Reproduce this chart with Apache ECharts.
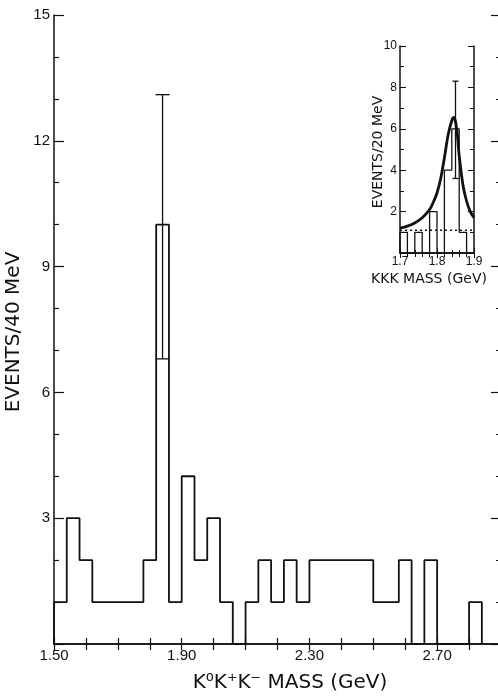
<!DOCTYPE html>
<html><head><meta charset="utf-8">
<script src="https://cdn.jsdelivr.net/npm/echarts@6/dist/echarts.min.js"></script>
<style>html,body{margin:0;padding:0;background:#fff}#c{width:498px;height:696px}</style>
</head><body><div id="c"></div>
<script>
// ---- main histogram (K0 K+ K- mass, 40 MeV bins) ----
const mainBinEdges = [1.50,1.54,1.58,1.62,1.66,1.70,1.74,1.78,1.82,1.86,1.90,1.94,1.98,2.02,2.06,2.10,2.14,2.18,2.22,2.26,2.30,2.34,2.38,2.42,2.46,2.50,2.54,2.58,2.62,2.66,2.70,2.74,2.78,2.80,2.84];
const mainCounts   = [1,3,2,1,1,1,1,2,10,1,4,2,3,1,0,1,2,1,2,1,2,2,2,2,2,1,1,2,0,2,0,0,0,1];
const mainErrorBar = [1.84, 6.8, 13.1];   // x, low, high
const mainXTickLabels = ['1.50','1.90','2.30','2.70'];
const mainYTickLabels = ['3','6','9','12','15'];

// ---- inset histogram (KKK mass, 20 MeV bins) ----
const insetBinEdges = [1.70,1.72,1.74,1.76,1.78,1.80,1.82,1.84,1.86,1.88,1.90];
const insetCounts   = [1,0,1,0,2,0,4,6,1,0];
const insetErrorBar = [1.85, 3.6, 8.3];
const insetFitX = [1.70,1.72,1.74,1.76,1.78,1.79,1.80,1.81,1.82,1.83,1.84,1.845,1.85,1.855,1.86,1.87,1.88,1.89,1.90];
const insetFitY = [1.2,1.3,1.45,1.7,2.1,2.45,2.9,3.6,4.6,5.7,6.4,6.55,6.35,5.7,4.7,3.3,2.5,2.0,1.7];
const insetBackground = [[1.70,1.1],[1.90,1.1]];
const insetXTickLabels = ['1.7','1.8','1.9'];
const insetYTickLabels = ['2','4','6','8','10'];

function stepOutline(edges, counts){
  const d = [[edges[0],0]];
  for (let i=0;i<counts.length;i++){ d.push([edges[i],counts[i]]); d.push([edges[i+1],counts[i]]); }
  d.push([edges[edges.length-1],0]);
  return d;
}
const INK = '#111';
const LBL = 'Liberation Sans, Arial, sans-serif';
const TTL = 'DejaVu Sans, sans-serif';

function errRender(capHalf){
  return function(params, api){
    const x = api.value(0), lo = api.value(1), hi = api.value(2);
    const a = api.coord([x, lo]), b = api.coord([x, hi]);
    const st = {stroke: INK, lineWidth: 1.3};
    return {type:'group', children:[
      {type:'line', shape:{x1:a[0],y1:a[1],x2:b[0],y2:b[1]}, style:st},
      {type:'line', shape:{x1:a[0]-capHalf,y1:a[1],x2:a[0]+capHalf,y2:a[1]}, style:st},
      {type:'line', shape:{x1:b[0]-capHalf,y1:b[1],x2:b[0]+capHalf,y2:b[1]}, style:st}
    ]};
  };
}

const axLine = {show:true, lineStyle:{color:INK, width:1.5}};
const chart = echarts.init(document.getElementById('c'), null, {renderer:'canvas'});
chart.setOption({
  animation:false,
  backgroundColor:'#fff',
  grid:[
    {left:54, top:15, width:447, bottom:52, outerBoundsMode:'none', containLabel:false},
    {left:400, top:46, width:74, height:207, show:true, backgroundColor:'#fff', borderWidth:0, outerBoundsMode:'none', containLabel:false}
  ],
  xAxis:[
    {type:'value', gridIndex:0, position:'bottom', min:1.5, max:2.9, interval:0.1,
     axisLine:axLine, axisTick:{inside:true, length:6, lineStyle:{color:INK, width:1.2}},
     splitLine:{show:false},
     axisLabel:{color:INK, fontFamily:LBL, fontSize:15, margin:4,
       formatter:v=>{const s=v.toFixed(2); return mainXTickLabels.includes(s)?s:'';}}},
    {type:'value', gridIndex:0, position:'top', min:1.5, max:2.9, interval:0.1,
     axisLine:axLine, axisTick:{inside:true, length:6, lineStyle:{color:INK, width:1.2}},
     splitLine:{show:false}, axisLabel:{show:false}},
    {type:'value', gridIndex:1, position:'bottom', min:1.7, max:1.9, interval:0.1,
     axisLine:axLine, axisTick:{inside:true, length:5, lineStyle:{color:INK, width:1}},
     minorTick:{show:true, splitNumber:5, length:3, lineStyle:{color:INK}},
     splitLine:{show:false}, minorSplitLine:{show:false},
     axisLabel:{color:INK, fontFamily:LBL, fontSize:12, margin:3,
       formatter:v=>{const s=v.toFixed(1); return insetXTickLabels.includes(s)?s:'';}}},
    {type:'value', gridIndex:1, position:'top', min:1.7, max:1.9, interval:0.1,
     axisLine:axLine, axisTick:{inside:true, length:5, lineStyle:{color:INK, width:1}},
     minorTick:{show:true, splitNumber:5, length:4, lineStyle:{color:INK}},
     splitLine:{show:false}, minorSplitLine:{show:false}, axisLabel:{show:false}}
  ],
  yAxis:[
    {type:'value', gridIndex:0, position:'left', min:0, max:15, interval:3,
     axisLine:axLine, axisTick:{inside:true, length:10, lineStyle:{color:INK, width:1.2}},
     minorTick:{show:true, splitNumber:3, length:5, lineStyle:{color:INK, width:1.2}},
     splitLine:{show:false}, minorSplitLine:{show:false},
     axisLabel:{color:INK, fontFamily:LBL, fontSize:15, margin:4,
       formatter:v=>{const s=String(v); return mainYTickLabels.includes(s)?s:'';}}},
    {type:'value', gridIndex:0, position:'right', min:0, max:15, interval:3,
     axisLine:axLine, axisTick:{inside:true, length:10, lineStyle:{color:INK, width:1.2}},
     minorTick:{show:true, splitNumber:3, length:5, lineStyle:{color:INK, width:1.2}},
     splitLine:{show:false}, minorSplitLine:{show:false}, axisLabel:{show:false}},
    {type:'value', gridIndex:1, position:'left', min:0, max:10, interval:2,
     axisLine:axLine, axisTick:{inside:true, length:6, lineStyle:{color:INK, width:1}},
     minorTick:{show:true, splitNumber:2, length:4, lineStyle:{color:INK}},
     splitLine:{show:false}, minorSplitLine:{show:false},
     axisLabel:{color:INK, fontFamily:LBL, fontSize:12, margin:3,
       formatter:v=>{const s=String(v); return insetYTickLabels.includes(s)?s:'';}}},
    {type:'value', gridIndex:1, position:'right', min:0, max:10, interval:2,
     axisLine:axLine, axisTick:{inside:true, length:6, lineStyle:{color:INK, width:1}},
     minorTick:{show:true, splitNumber:2, length:4, lineStyle:{color:INK}},
     splitLine:{show:false}, minorSplitLine:{show:false}, axisLabel:{show:false}}
  ],
  series:[
    {type:'line', xAxisIndex:0, yAxisIndex:0, data:stepOutline(mainBinEdges, mainCounts),
     symbol:'none', lineStyle:{color:INK, width:1.8}, z:3},
    {type:'custom', xAxisIndex:0, yAxisIndex:0, data:[mainErrorBar],
     encode:{x:0, y:[1,2]}, renderItem:errRender(7), z:4},
    {type:'line', xAxisIndex:2, yAxisIndex:2, data:stepOutline(insetBinEdges, insetCounts),
     symbol:'none', lineStyle:{color:INK, width:1.3}, z:3},
    {type:'line', xAxisIndex:2, yAxisIndex:2, data:insetBackground,
     symbol:'none', lineStyle:{color:INK, width:1.6, type:[2,3]}, z:3},
    {type:'line', xAxisIndex:2, yAxisIndex:2, data:insetFitX.map((x,i)=>[x,insetFitY[i]]),
     symbol:'none', smooth:0.3, lineStyle:{color:INK, width:2.8}, z:5},
    {type:'custom', xAxisIndex:2, yAxisIndex:2, data:[insetErrorBar],
     encode:{x:0, y:[1,2]}, renderItem:errRender(3), z:6}
  ],
  graphic:[
    {type:'text', x:14, y:332, rotation:Math.PI/2,
     style:{text:'EVENTS/40 MeV', fill:INK, font:'20px '+TTL, textAlign:'center', textVerticalAlign:'middle'}},
    {type:'text', x:290, y:683,
     style:{text:'K\u2070K\u207AK\u207B MASS (GeV)', fill:INK, font:'20px '+TTL, textAlign:'center', textVerticalAlign:'middle'}},
    {type:'text', x:378, y:152, rotation:Math.PI/2,
     style:{text:'EVENTS/20 MeV', fill:INK, font:'14px '+TTL, textAlign:'center', textVerticalAlign:'middle'}},
    {type:'text', x:429, y:279,
     style:{text:'KKK MASS (GeV)', fill:INK, font:'14px '+TTL, textAlign:'center', textVerticalAlign:'middle'}}
  ]
});
</script></body></html>
